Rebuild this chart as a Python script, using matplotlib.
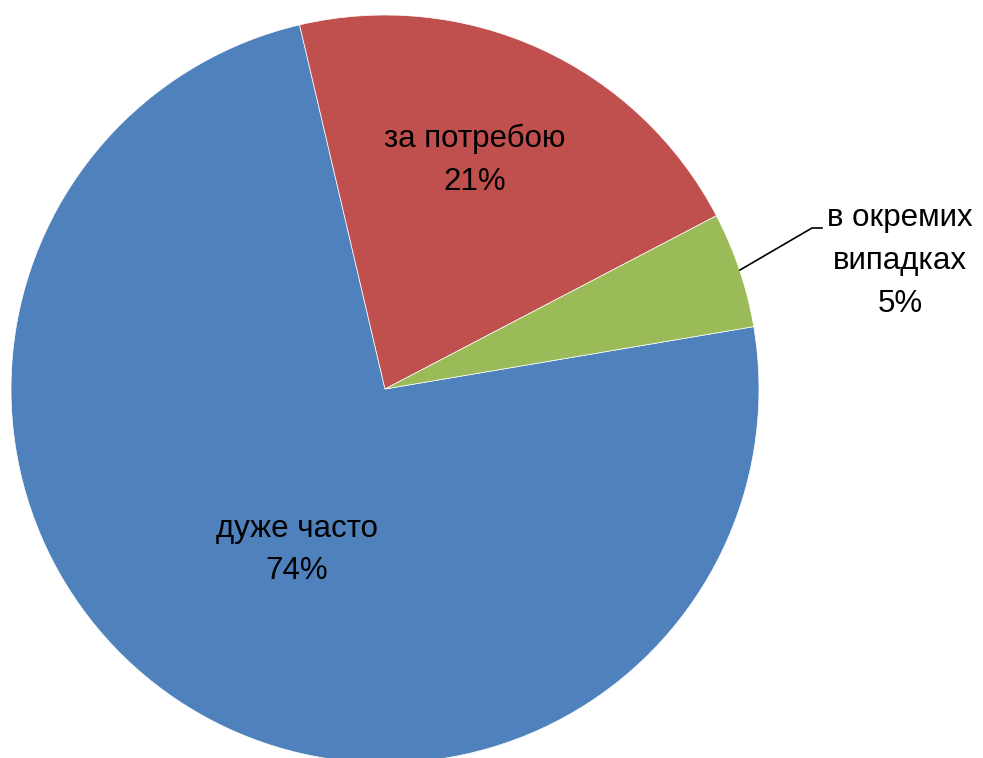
import matplotlib
matplotlib.use('Agg')
import matplotlib.pyplot as plt

labels = ["дуже часто", "за потребою", "в окремих\nвипадках"]
values = [74, 21, 5]
colors = ["#4F81BD", "#C0504D", "#9BBB59"]

W, H = 983, 758
fig = plt.figure(figsize=(W / 100, H / 100), dpi=100)
ax = fig.add_axes([0, 0, 1, 1])

cx, cy, r = 385, H - 389, 374
wedges, _ = ax.pie(values, colors=colors, startangle=9.6, counterclock=False,
                   radius=r, center=(cx, cy), frame=True,
                   wedgeprops=dict(edgecolor='white', linewidth=0.5))
ax.set_xlim(0, W)
ax.set_ylim(0, H)
ax.set_aspect('equal')
ax.axis('off')

fs = 22.5
font = "Liberation Sans"
# label positions in pixel coords (y from top)
pos = [(297, 550), (475, 160), (900, 261)]
for lab, v, (px, py) in zip(labels, values, pos):
    ax.text(px, H - py, f"{lab}\n{v}%", ha='center', va='center', fontsize=fs,
            family=font, linespacing=1.55, color='black')

# leader line for the small slice
ax.plot([740, 812, 822], [H - 270, H - 228, H - 228], color='black', lw=1.2)

fig.savefig("out.png", dpi=100)
